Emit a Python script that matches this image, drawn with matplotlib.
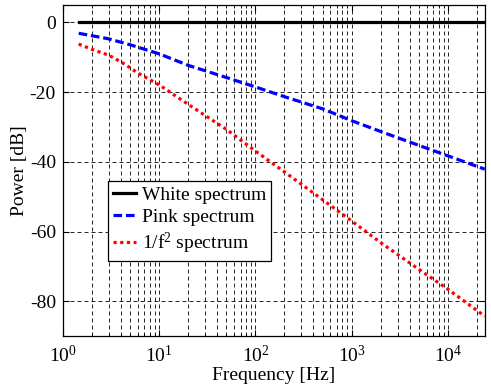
import matplotlib
matplotlib.use('Agg')
import matplotlib.pyplot as plt
from matplotlib.ticker import LogLocator, NullFormatter

# ---------------------------------------------------------------------------
# Data (frequency in Hz, power in dB)
# ---------------------------------------------------------------------------
white_freq = [1.46, 24000]
white_db = [0.0, 0.0]

pink_freq = [1.46, 2, 3, 5, 10, 20, 50, 100, 200, 500, 1000, 2000, 5000, 10000, 24000]
pink_db = [-3.1, -3.8, -4.7, -6.4, -9.0, -12.3, -15.8, -18.5, -21.3, -24.8,
           -28.2, -31.3, -35.3, -38.3, -42.1]

red_freq = [1.46, 2, 3, 4, 5, 6, 10, 20, 50, 100, 200, 500, 1000, 2000, 5000, 10000, 24000]
red_db = [-6.2, -7.7, -9.4, -11.3, -13.0, -14.5, -17.9, -23.5, -30.7, -36.9, -42.9,
          -50.9, -57.0, -63.2, -70.9, -76.6, -84.3]

labels = ['White spectrum', 'Pink spectrum', r'1/f$^2$ spectrum']
y_ticks = [0, -20, -40, -60, -80]

plt.rcParams['font.family'] = ['Liberation Serif', 'DejaVu Serif']
plt.rcParams['mathtext.fontset'] = 'custom'
plt.rcParams['mathtext.rm'] = 'Liberation Serif'
plt.rcParams['mathtext.it'] = 'Liberation Serif'
plt.rcParams['axes.unicode_minus'] = False
plt.rcParams['font.size'] = 14

fig = plt.figure(figsize=(4.91, 3.89), dpi=100)
ax = fig.add_axes([0.128, 0.136, 0.860, 0.851])

ax.plot(white_freq, white_db, color='black', lw=2.3, label=labels[0], zorder=3)
ax.plot(pink_freq, pink_db, color='#0000ff', lw=2.3, linestyle=(0, (2.7, 1.2)),
        label=labels[1], zorder=3)
ax.plot(red_freq, red_db, color='#ff0000', lw=2.3, linestyle=(0, (1, 1.1)),
        label=labels[2], zorder=3)

ax.set_xscale('log')
ax.set_xlim(1, 24200)
ax.set_ylim(-90, 5)
ax.set_yticks(y_ticks)
ax.xaxis.set_major_locator(LogLocator(base=10, numticks=10))
ax.xaxis.set_minor_locator(LogLocator(base=10, subs=range(2, 10), numticks=20))
ax.xaxis.set_minor_formatter(NullFormatter())

# MATLAB-like grid: dashed black lines at major + minor x, major y
grid_style = dict(color='black', linewidth=0.6, linestyle=(0, (4.8, 3.6)))
ax.grid(True, which='major', axis='both', **grid_style)
ax.grid(True, which='minor', axis='x', **grid_style)
ax.set_axisbelow(True)

ax.tick_params(which='both', direction='in', top=True, right=True, labelsize=14)
ax.tick_params(which='major', length=4, width=0.8)
ax.tick_params(which='minor', length=2, width=0.6)
ax.tick_params(axis='x', pad=6)
ax.tick_params(axis='y', pad=5)
for sp in ax.spines.values():
    sp.set_linewidth(0.9)

ax.set_xlabel('Frequency [Hz]', fontsize=14, labelpad=1)
ax.set_ylabel('Power [dB]', fontsize=14, labelpad=1)

leg = ax.legend(loc='lower left', bbox_to_anchor=(0.107, 0.227), borderaxespad=0,
                fancybox=False, framealpha=1, edgecolor='black', fontsize=14,
                handlelength=1.2, handletextpad=0.3, borderpad=0.25, labelspacing=0.25)
leg.get_frame().set_linewidth(0.9)

fig.savefig('out.png', dpi=100)
